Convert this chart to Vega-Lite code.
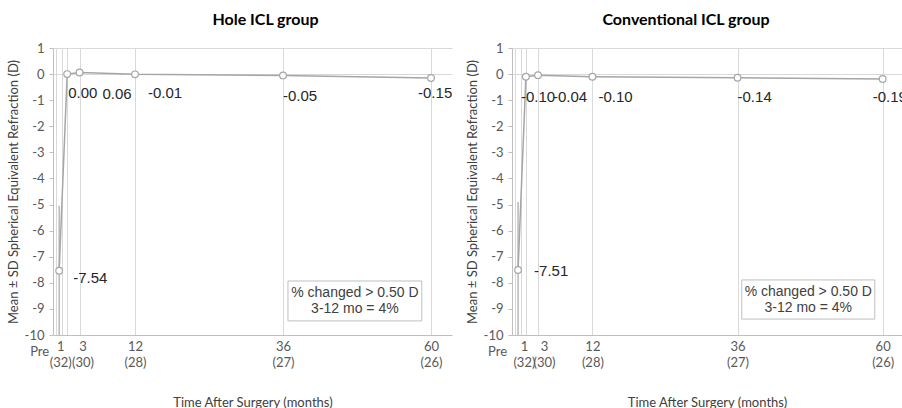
{
  "$schema": "https://vega.github.io/schema/vega-lite/v6.json",
  "background": "white",
  "padding": {"left": 7, "top": 12, "right": 0, "bottom": 0},
  "spacing": 60,
  "bounds": "flush",
  "config": {
    "view": {"stroke": null},
    "font": "Lato",
    "locale": {"number": {"decimal": ".", "thousands": ",", "grouping": [3], "currency": ["$", ""], "minus": "-"}}
  },
  "datasets": {
    "refraction": [
      {"group": "Hole ICL", "time": "Pre", "month": -0.3, "value": -7.54, "lo": -5.05, "hi": -10},
      {"group": "Hole ICL", "time": "1", "month": 1, "value": 0.00, "lo": null, "hi": null},
      {"group": "Hole ICL", "time": "3", "month": 3, "value": 0.06, "lo": null, "hi": null},
      {"group": "Hole ICL", "time": "12", "month": 12, "value": -0.01, "lo": null, "hi": null},
      {"group": "Hole ICL", "time": "36", "month": 36, "value": -0.05, "lo": null, "hi": null},
      {"group": "Hole ICL", "time": "60", "month": 60, "value": -0.15, "lo": null, "hi": null},
      {"group": "Conventional ICL", "time": "Pre", "month": -0.3, "value": -7.51, "lo": -4.9, "hi": -10},
      {"group": "Conventional ICL", "time": "1", "month": 1, "value": -0.10, "lo": null, "hi": null},
      {"group": "Conventional ICL", "time": "3", "month": 3, "value": -0.04, "lo": null, "hi": null},
      {"group": "Conventional ICL", "time": "12", "month": 12, "value": -0.10, "lo": null, "hi": null},
      {"group": "Conventional ICL", "time": "36", "month": 36, "value": -0.14, "lo": null, "hi": null},
      {"group": "Conventional ICL", "time": "60", "month": 60, "value": -0.19, "lo": null, "hi": null}
    ],
    "notes": [
      {"group": "Hole ICL", "line1": "% changed > 0.50 D", "line2": "3-12 mo = 4%"},
      {"group": "Conventional ICL", "line1": "% changed > 0.50 D", "line2": "3-12 mo = 4%"}
    ]
  },
  "hconcat": [
    {
      "width": 399,
      "height": 287,
      "title": {"text": "Hole ICL group", "font": "Lato", "fontSize": 16, "fontWeight": "bold", "color": "#000000", "dx": 13, "offset": 14},
      "layer": [
        {
          "encoding": {
            "x": {
              "field": "month", "type": "quantitative",
              "scale": {"domain": [-1.3, 63.4], "nice": false, "zero": false},
              "axis": {"values": [-0.8, -0.3, 0.2, 1, 3, 12, 36, 60], "labelExpr": "datum.value == -0.3 ? 'Pre' : datum.value == 1 ? ['1', '(32)'] : datum.value == 3 ? ['3', '(30)'] : datum.value == 12 ? ['12', '(28)'] : datum.value == 36 ? ['36', '(27)'] : datum.value == 60 ? ['60', '(26)'] : ''", "labelOffset": {"condition": [{"test": "datum.value == -0.3", "value": -20}, {"test": "datum.value == 1", "value": -7}, {"test": "datum.value == 3", "value": 3}], "value": 0}, "labelPadding": {"condition": {"test": "datum.value == -0.3", "value": 10}, "value": 5}, "labelLineHeight": 16, "labelOverlap": false, "labelFont": "Lato", "labelFontSize": 13, "labelColor": "#595959", "ticks": false, "grid": true, "gridColor": "#d9d9d9", "gridWidth": 1, "gridOpacity": {"condition": {"test": "datum.value == -0.3", "value": 0}, "value": 1}, "domainColor": "#bfbfbf", "title": "Time After Surgery (months)", "titleFont": "Lato", "titleFontSize": 13, "titleFontWeight": "normal", "titleColor": "#404040", "titlePadding": 27}
            },
            "y": {
              "field": "value", "type": "quantitative",
              "scale": {"domain": [-10, 1], "nice": false, "zero": false},
              "axis": {"values": [1, 0, -1, -2, -3, -4, -5, -6, -7, -8, -9, -10], "title": "Mean ± SD Spherical Equivalent Refraction (D)", "titleFont": "Lato", "titleFontSize": 13, "titleFontWeight": "normal", "titleColor": "#404040", "titlePadding": 4, "labelFont": "Lato", "labelFontSize": 13, "labelColor": "#595959", "labelPadding": 5, "ticks": true, "tickSize": 4, "tickColor": "#bfbfbf", "domainColor": "#bfbfbf", "grid": true, "gridColor": "#d9d9d9", "gridOpacity": {"condition": {"test": "datum.value == 1 || datum.value == 0", "value": 1}, "value": 0}}
            }
          },
          "layer": [
            {
              "data": {"name": "refraction"},
              "transform": [{"filter": "datum.group == 'Hole ICL' && datum.lo != null"}],
              "mark": {"type": "rule", "color": "#a6a6a6", "strokeWidth": 1.2},
              "encoding": {"y2": {"field": "lo"}}
            },
            {
              "data": {"name": "refraction"},
              "transform": [{"filter": "datum.group == 'Hole ICL' && datum.hi != null"}],
              "mark": {"type": "rule", "color": "#a6a6a6", "strokeWidth": 1.2},
              "encoding": {"y2": {"field": "hi"}}
            },
            {
              "data": {"name": "refraction"},
              "transform": [{"filter": "datum.group == 'Hole ICL'"}],
              "mark": {"type": "line", "color": "#a6a6a6", "strokeWidth": 1.5}
            },
            {
              "data": {"name": "refraction"},
              "transform": [{"filter": "datum.group == 'Hole ICL'"}],
              "mark": {"type": "point", "filled": true, "fill": "white", "stroke": "#a6a6a6", "strokeWidth": 1.2, "size": 45, "opacity": 1}
            },
            {
              "data": {"name": "refraction"},
              "transform": [{"filter": "datum.group == 'Hole ICL'"}],
              "mark": {
                "type": "text", "align": "left", "baseline": "middle", "font": "Liberation Sans", "fontSize": 15, "color": "#262626", "clip": true,
                "dx": {"expr": "datum.month == -0.3 ? 14 : datum.month == 1 ? 1 : datum.month == 3 ? 23 : datum.month == 12 ? 13 : datum.month == 36 ? 0 : -13"},
                "dy": {"expr": "datum.month == -0.3 ? 7 : datum.month == 1 ? 19 : datum.month == 3 ? 21 : datum.month == 12 ? 19 : datum.month == 36 ? 21 : 15"}
              },
              "encoding": {"text": {"field": "value", "type": "quantitative", "format": ".2f"}}
            }
          ]
        },
        {
          "data": {"name": "notes"},
          "transform": [{"filter": "datum.group == 'Hole ICL'"}],
          "mark": {"type": "rect", "fill": "white", "stroke": "#bfbfbf", "strokeWidth": 1},
          "encoding": {
            "x": {
              "datum": 36.8, "type": "quantitative",
              "scale": {"domain": [-1.3, 63.4], "nice": false, "zero": false},
              "axis": {"values": [-0.8, -0.3, 0.2, 1, 3, 12, 36, 60], "labelExpr": "datum.value == -0.3 ? 'Pre' : datum.value == 1 ? ['1', '(32)'] : datum.value == 3 ? ['3', '(30)'] : datum.value == 12 ? ['12', '(28)'] : datum.value == 36 ? ['36', '(27)'] : datum.value == 60 ? ['60', '(26)'] : ''", "labelOffset": {"condition": [{"test": "datum.value == -0.3", "value": -20}, {"test": "datum.value == 1", "value": -7}, {"test": "datum.value == 3", "value": 3}], "value": 0}, "labelPadding": {"condition": {"test": "datum.value == -0.3", "value": 10}, "value": 5}, "labelLineHeight": 16, "labelOverlap": false, "labelFont": "Lato", "labelFontSize": 13, "labelColor": "#595959", "ticks": false, "grid": true, "gridColor": "#d9d9d9", "gridWidth": 1, "gridOpacity": {"condition": {"test": "datum.value == -0.3", "value": 0}, "value": 1}, "domainColor": "#bfbfbf", "title": "Time After Surgery (months)", "titleFont": "Lato", "titleFontSize": 13, "titleFontWeight": "normal", "titleColor": "#404040", "titlePadding": 27}
            },
            "x2": {"datum": 58.5},
            "y": {
              "datum": -7.93, "type": "quantitative",
              "scale": {"domain": [-10, 1], "nice": false, "zero": false},
              "axis": {"values": [1, 0, -1, -2, -3, -4, -5, -6, -7, -8, -9, -10], "title": "Mean ± SD Spherical Equivalent Refraction (D)", "titleFont": "Lato", "titleFontSize": 13, "titleFontWeight": "normal", "titleColor": "#404040", "titlePadding": 4, "labelFont": "Lato", "labelFontSize": 13, "labelColor": "#595959", "labelPadding": 5, "ticks": true, "tickSize": 4, "tickColor": "#bfbfbf", "domainColor": "#bfbfbf", "grid": true, "gridColor": "#d9d9d9", "gridOpacity": {"condition": {"test": "datum.value == 1 || datum.value == 0", "value": 1}, "value": 0}}
            },
            "y2": {"datum": -9.46}
          }
        },
        {
          "data": {"name": "notes"},
          "transform": [{"filter": "datum.group == 'Hole ICL'"}],
          "mark": {"type": "text", "align": "center", "baseline": "middle", "font": "Liberation Sans", "fontSize": 14, "color": "#404040", "dy": -8},
          "encoding": {
            "x": {
              "datum": 47.65, "type": "quantitative",
              "scale": {"domain": [-1.3, 63.4], "nice": false, "zero": false},
              "axis": {"values": [-0.8, -0.3, 0.2, 1, 3, 12, 36, 60], "labelExpr": "datum.value == -0.3 ? 'Pre' : datum.value == 1 ? ['1', '(32)'] : datum.value == 3 ? ['3', '(30)'] : datum.value == 12 ? ['12', '(28)'] : datum.value == 36 ? ['36', '(27)'] : datum.value == 60 ? ['60', '(26)'] : ''", "labelOffset": {"condition": [{"test": "datum.value == -0.3", "value": -20}, {"test": "datum.value == 1", "value": -7}, {"test": "datum.value == 3", "value": 3}], "value": 0}, "labelPadding": {"condition": {"test": "datum.value == -0.3", "value": 10}, "value": 5}, "labelLineHeight": 16, "labelOverlap": false, "labelFont": "Lato", "labelFontSize": 13, "labelColor": "#595959", "ticks": false, "grid": true, "gridColor": "#d9d9d9", "gridWidth": 1, "gridOpacity": {"condition": {"test": "datum.value == -0.3", "value": 0}, "value": 1}, "domainColor": "#bfbfbf", "title": "Time After Surgery (months)", "titleFont": "Lato", "titleFontSize": 13, "titleFontWeight": "normal", "titleColor": "#404040", "titlePadding": 27}
            },
            "y": {
              "datum": -8.7, "type": "quantitative",
              "scale": {"domain": [-10, 1], "nice": false, "zero": false},
              "axis": {"values": [1, 0, -1, -2, -3, -4, -5, -6, -7, -8, -9, -10], "title": "Mean ± SD Spherical Equivalent Refraction (D)", "titleFont": "Lato", "titleFontSize": 13, "titleFontWeight": "normal", "titleColor": "#404040", "titlePadding": 4, "labelFont": "Lato", "labelFontSize": 13, "labelColor": "#595959", "labelPadding": 5, "ticks": true, "tickSize": 4, "tickColor": "#bfbfbf", "domainColor": "#bfbfbf", "grid": true, "gridColor": "#d9d9d9", "gridOpacity": {"condition": {"test": "datum.value == 1 || datum.value == 0", "value": 1}, "value": 0}}
            },
            "text": {"field": "line1", "type": "nominal"}
          }
        },
        {
          "data": {"name": "notes"},
          "transform": [{"filter": "datum.group == 'Hole ICL'"}],
          "mark": {"type": "text", "align": "center", "baseline": "middle", "font": "Liberation Sans", "fontSize": 14, "color": "#404040", "dy": 8},
          "encoding": {
            "x": {
              "datum": 47.65, "type": "quantitative",
              "scale": {"domain": [-1.3, 63.4], "nice": false, "zero": false},
              "axis": {"values": [-0.8, -0.3, 0.2, 1, 3, 12, 36, 60], "labelExpr": "datum.value == -0.3 ? 'Pre' : datum.value == 1 ? ['1', '(32)'] : datum.value == 3 ? ['3', '(30)'] : datum.value == 12 ? ['12', '(28)'] : datum.value == 36 ? ['36', '(27)'] : datum.value == 60 ? ['60', '(26)'] : ''", "labelOffset": {"condition": [{"test": "datum.value == -0.3", "value": -20}, {"test": "datum.value == 1", "value": -7}, {"test": "datum.value == 3", "value": 3}], "value": 0}, "labelPadding": {"condition": {"test": "datum.value == -0.3", "value": 10}, "value": 5}, "labelLineHeight": 16, "labelOverlap": false, "labelFont": "Lato", "labelFontSize": 13, "labelColor": "#595959", "ticks": false, "grid": true, "gridColor": "#d9d9d9", "gridWidth": 1, "gridOpacity": {"condition": {"test": "datum.value == -0.3", "value": 0}, "value": 1}, "domainColor": "#bfbfbf", "title": "Time After Surgery (months)", "titleFont": "Lato", "titleFontSize": 13, "titleFontWeight": "normal", "titleColor": "#404040", "titlePadding": 27}
            },
            "y": {
              "datum": -8.7, "type": "quantitative",
              "scale": {"domain": [-10, 1], "nice": false, "zero": false},
              "axis": {"values": [1, 0, -1, -2, -3, -4, -5, -6, -7, -8, -9, -10], "title": "Mean ± SD Spherical Equivalent Refraction (D)", "titleFont": "Lato", "titleFontSize": 13, "titleFontWeight": "normal", "titleColor": "#404040", "titlePadding": 4, "labelFont": "Lato", "labelFontSize": 13, "labelColor": "#595959", "labelPadding": 5, "ticks": true, "tickSize": 4, "tickColor": "#bfbfbf", "domainColor": "#bfbfbf", "grid": true, "gridColor": "#d9d9d9", "gridOpacity": {"condition": {"test": "datum.value == 1 || datum.value == 0", "value": 1}, "value": 0}}
            },
            "text": {"field": "line2", "type": "nominal"}
          }
        }
      ]
    },
    {
      "width": 390,
      "height": 287,
      "title": {"text": "Conventional ICL group", "font": "Lato", "fontSize": 16, "fontWeight": "bold", "color": "#000000", "dx": -21, "offset": 14},
      "layer": [
        {
          "encoding": {
            "x": {
              "field": "month", "type": "quantitative",
              "scale": {"domain": [-1.3, 63.2], "nice": false, "zero": false},
              "axis": {"values": [-0.8, -0.3, 0.2, 1, 3, 12, 36, 60], "labelExpr": "datum.value == -0.3 ? 'Pre' : datum.value == 1 ? ['1', '(32)'] : datum.value == 3 ? ['3', '(30)'] : datum.value == 12 ? ['12', '(28)'] : datum.value == 36 ? ['36', '(27)'] : datum.value == 60 ? ['60', '(26)'] : ''", "labelOffset": {"condition": [{"test": "datum.value == -0.3", "value": -21}, {"test": "datum.value == 1", "value": -2}, {"test": "datum.value == 3", "value": 6}], "value": 0}, "labelPadding": {"condition": {"test": "datum.value == -0.3", "value": 10}, "value": 5}, "labelLineHeight": 16, "labelOverlap": false, "labelFont": "Lato", "labelFontSize": 13, "labelColor": "#595959", "ticks": false, "grid": true, "gridColor": "#d9d9d9", "gridWidth": 1, "gridOpacity": {"condition": {"test": "datum.value == -0.3", "value": 0}, "value": 1}, "domainColor": "#bfbfbf", "title": "Time After Surgery (months)", "titleFont": "Lato", "titleFontSize": 13, "titleFontWeight": "normal", "titleColor": "#404040", "titlePadding": 27}
            },
            "y": {
              "field": "value", "type": "quantitative",
              "scale": {"domain": [-10, 1], "nice": false, "zero": false},
              "axis": {"values": [1, 0, -1, -2, -3, -4, -5, -6, -7, -8, -9, -10], "title": "Mean ± SD Spherical Equivalent Refraction (D)", "titleFont": "Lato", "titleFontSize": 13, "titleFontWeight": "normal", "titleColor": "#404040", "titlePadding": 4, "labelFont": "Lato", "labelFontSize": 13, "labelColor": "#595959", "labelPadding": 5, "ticks": true, "tickSize": 4, "tickColor": "#bfbfbf", "domainColor": "#bfbfbf", "grid": true, "gridColor": "#d9d9d9", "gridOpacity": {"condition": {"test": "datum.value == 1 || datum.value == 0", "value": 1}, "value": 0}}
            }
          },
          "layer": [
            {
              "data": {"name": "refraction"},
              "transform": [{"filter": "datum.group == 'Conventional ICL' && datum.lo != null"}],
              "mark": {"type": "rule", "color": "#a6a6a6", "strokeWidth": 1.2},
              "encoding": {"y2": {"field": "lo"}}
            },
            {
              "data": {"name": "refraction"},
              "transform": [{"filter": "datum.group == 'Conventional ICL' && datum.hi != null"}],
              "mark": {"type": "rule", "color": "#a6a6a6", "strokeWidth": 1.2},
              "encoding": {"y2": {"field": "hi"}}
            },
            {
              "data": {"name": "refraction"},
              "transform": [{"filter": "datum.group == 'Conventional ICL'"}],
              "mark": {"type": "line", "color": "#a6a6a6", "strokeWidth": 1.5}
            },
            {
              "data": {"name": "refraction"},
              "transform": [{"filter": "datum.group == 'Conventional ICL'"}],
              "mark": {"type": "point", "filled": true, "fill": "white", "stroke": "#a6a6a6", "strokeWidth": 1.2, "size": 45, "opacity": 1}
            },
            {
              "data": {"name": "refraction"},
              "transform": [{"filter": "datum.group == 'Conventional ICL'"}],
              "mark": {
                "type": "text", "align": "left", "baseline": "middle", "font": "Liberation Sans", "fontSize": 15, "color": "#262626", "clip": true,
                "dx": {"expr": "datum.month == -0.3 ? 16 : datum.month == 1 ? -5 : datum.month == 3 ? 15 : datum.month == 12 ? 6 : datum.month == 36 ? 0 : -10"},
                "dy": {"expr": "datum.month == -0.3 ? 1 : datum.month == 1 ? 20 : datum.month == 3 ? 22 : datum.month == 12 ? 20 : datum.month == 36 ? 19 : 18"}
              },
              "encoding": {"text": {"field": "value", "type": "quantitative", "format": ".2f"}}
            }
          ]
        },
        {
          "data": {"name": "notes"},
          "transform": [{"filter": "datum.group == 'Conventional ICL'"}],
          "mark": {"type": "rect", "fill": "white", "stroke": "#bfbfbf", "strokeWidth": 1},
          "encoding": {
            "x": {
              "datum": 36.7, "type": "quantitative",
              "scale": {"domain": [-1.3, 63.2], "nice": false, "zero": false},
              "axis": {"values": [-0.8, -0.3, 0.2, 1, 3, 12, 36, 60], "labelExpr": "datum.value == -0.3 ? 'Pre' : datum.value == 1 ? ['1', '(32)'] : datum.value == 3 ? ['3', '(30)'] : datum.value == 12 ? ['12', '(28)'] : datum.value == 36 ? ['36', '(27)'] : datum.value == 60 ? ['60', '(26)'] : ''", "labelOffset": {"condition": [{"test": "datum.value == -0.3", "value": -21}, {"test": "datum.value == 1", "value": -2}, {"test": "datum.value == 3", "value": 6}], "value": 0}, "labelPadding": {"condition": {"test": "datum.value == -0.3", "value": 10}, "value": 5}, "labelLineHeight": 16, "labelOverlap": false, "labelFont": "Lato", "labelFontSize": 13, "labelColor": "#595959", "ticks": false, "grid": true, "gridColor": "#d9d9d9", "gridWidth": 1, "gridOpacity": {"condition": {"test": "datum.value == -0.3", "value": 0}, "value": 1}, "domainColor": "#bfbfbf", "title": "Time After Surgery (months)", "titleFont": "Lato", "titleFontSize": 13, "titleFontWeight": "normal", "titleColor": "#404040", "titlePadding": 27}
            },
            "x2": {"datum": 58.7},
            "y": {
              "datum": -7.89, "type": "quantitative",
              "scale": {"domain": [-10, 1], "nice": false, "zero": false},
              "axis": {"values": [1, 0, -1, -2, -3, -4, -5, -6, -7, -8, -9, -10], "title": "Mean ± SD Spherical Equivalent Refraction (D)", "titleFont": "Lato", "titleFontSize": 13, "titleFontWeight": "normal", "titleColor": "#404040", "titlePadding": 4, "labelFont": "Lato", "labelFontSize": 13, "labelColor": "#595959", "labelPadding": 5, "ticks": true, "tickSize": 4, "tickColor": "#bfbfbf", "domainColor": "#bfbfbf", "grid": true, "gridColor": "#d9d9d9", "gridOpacity": {"condition": {"test": "datum.value == 1 || datum.value == 0", "value": 1}, "value": 0}}
            },
            "y2": {"datum": -9.39}
          }
        },
        {
          "data": {"name": "notes"},
          "transform": [{"filter": "datum.group == 'Conventional ICL'"}],
          "mark": {"type": "text", "align": "center", "baseline": "middle", "font": "Liberation Sans", "fontSize": 14, "color": "#404040", "dy": -8},
          "encoding": {
            "x": {
              "datum": 47.7, "type": "quantitative",
              "scale": {"domain": [-1.3, 63.2], "nice": false, "zero": false},
              "axis": {"values": [-0.8, -0.3, 0.2, 1, 3, 12, 36, 60], "labelExpr": "datum.value == -0.3 ? 'Pre' : datum.value == 1 ? ['1', '(32)'] : datum.value == 3 ? ['3', '(30)'] : datum.value == 12 ? ['12', '(28)'] : datum.value == 36 ? ['36', '(27)'] : datum.value == 60 ? ['60', '(26)'] : ''", "labelOffset": {"condition": [{"test": "datum.value == -0.3", "value": -21}, {"test": "datum.value == 1", "value": -2}, {"test": "datum.value == 3", "value": 6}], "value": 0}, "labelPadding": {"condition": {"test": "datum.value == -0.3", "value": 10}, "value": 5}, "labelLineHeight": 16, "labelOverlap": false, "labelFont": "Lato", "labelFontSize": 13, "labelColor": "#595959", "ticks": false, "grid": true, "gridColor": "#d9d9d9", "gridWidth": 1, "gridOpacity": {"condition": {"test": "datum.value == -0.3", "value": 0}, "value": 1}, "domainColor": "#bfbfbf", "title": "Time After Surgery (months)", "titleFont": "Lato", "titleFontSize": 13, "titleFontWeight": "normal", "titleColor": "#404040", "titlePadding": 27}
            },
            "y": {
              "datum": -8.64, "type": "quantitative",
              "scale": {"domain": [-10, 1], "nice": false, "zero": false},
              "axis": {"values": [1, 0, -1, -2, -3, -4, -5, -6, -7, -8, -9, -10], "title": "Mean ± SD Spherical Equivalent Refraction (D)", "titleFont": "Lato", "titleFontSize": 13, "titleFontWeight": "normal", "titleColor": "#404040", "titlePadding": 4, "labelFont": "Lato", "labelFontSize": 13, "labelColor": "#595959", "labelPadding": 5, "ticks": true, "tickSize": 4, "tickColor": "#bfbfbf", "domainColor": "#bfbfbf", "grid": true, "gridColor": "#d9d9d9", "gridOpacity": {"condition": {"test": "datum.value == 1 || datum.value == 0", "value": 1}, "value": 0}}
            },
            "text": {"field": "line1", "type": "nominal"}
          }
        },
        {
          "data": {"name": "notes"},
          "transform": [{"filter": "datum.group == 'Conventional ICL'"}],
          "mark": {"type": "text", "align": "center", "baseline": "middle", "font": "Liberation Sans", "fontSize": 14, "color": "#404040", "dy": 8},
          "encoding": {
            "x": {
              "datum": 47.7, "type": "quantitative",
              "scale": {"domain": [-1.3, 63.2], "nice": false, "zero": false},
              "axis": {"values": [-0.8, -0.3, 0.2, 1, 3, 12, 36, 60], "labelExpr": "datum.value == -0.3 ? 'Pre' : datum.value == 1 ? ['1', '(32)'] : datum.value == 3 ? ['3', '(30)'] : datum.value == 12 ? ['12', '(28)'] : datum.value == 36 ? ['36', '(27)'] : datum.value == 60 ? ['60', '(26)'] : ''", "labelOffset": {"condition": [{"test": "datum.value == -0.3", "value": -21}, {"test": "datum.value == 1", "value": -2}, {"test": "datum.value == 3", "value": 6}], "value": 0}, "labelPadding": {"condition": {"test": "datum.value == -0.3", "value": 10}, "value": 5}, "labelLineHeight": 16, "labelOverlap": false, "labelFont": "Lato", "labelFontSize": 13, "labelColor": "#595959", "ticks": false, "grid": true, "gridColor": "#d9d9d9", "gridWidth": 1, "gridOpacity": {"condition": {"test": "datum.value == -0.3", "value": 0}, "value": 1}, "domainColor": "#bfbfbf", "title": "Time After Surgery (months)", "titleFont": "Lato", "titleFontSize": 13, "titleFontWeight": "normal", "titleColor": "#404040", "titlePadding": 27}
            },
            "y": {
              "datum": -8.64, "type": "quantitative",
              "scale": {"domain": [-10, 1], "nice": false, "zero": false},
              "axis": {"values": [1, 0, -1, -2, -3, -4, -5, -6, -7, -8, -9, -10], "title": "Mean ± SD Spherical Equivalent Refraction (D)", "titleFont": "Lato", "titleFontSize": 13, "titleFontWeight": "normal", "titleColor": "#404040", "titlePadding": 4, "labelFont": "Lato", "labelFontSize": 13, "labelColor": "#595959", "labelPadding": 5, "ticks": true, "tickSize": 4, "tickColor": "#bfbfbf", "domainColor": "#bfbfbf", "grid": true, "gridColor": "#d9d9d9", "gridOpacity": {"condition": {"test": "datum.value == 1 || datum.value == 0", "value": 1}, "value": 0}}
            },
            "text": {"field": "line2", "type": "nominal"}
          }
        }
      ]
    }
  ]
}
